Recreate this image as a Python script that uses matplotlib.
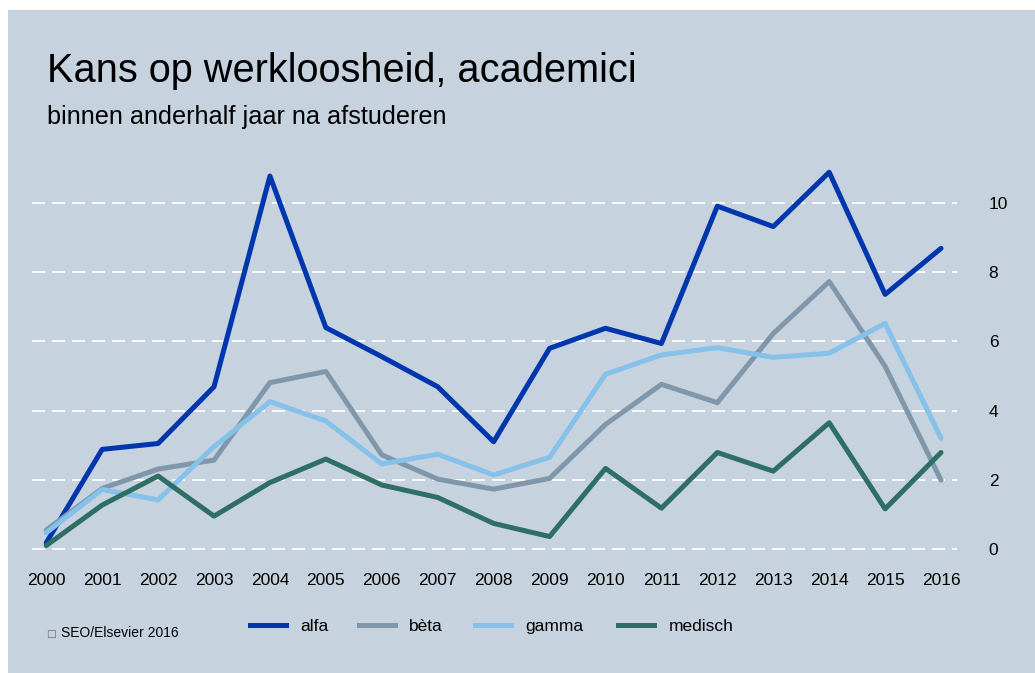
import matplotlib
matplotlib.use("Agg")
import matplotlib.pyplot as plt
from matplotlib.lines import Line2D
from matplotlib.patches import Rectangle

years = list(range(2000, 2017))
alfa = [0.18, 2.88, 3.05, 4.69, 10.78, 6.40, 5.56, 4.69, 3.10, 5.80, 6.38, 5.94, 9.91, 9.32, 10.89, 7.36, 8.69]
beta = [0.55, 1.75, 2.31, 2.57, 4.81, 5.13, 2.72, 2.02, 1.73, 2.04, 3.60, 4.76, 4.23, 6.23, 7.73, 5.28, 1.99]
gamma = [0.47, 1.72, 1.42, 2.96, 4.26, 3.70, 2.46, 2.74, 2.14, 2.65, 5.05, 5.61, 5.82, 5.54, 5.66, 6.52, 3.20]
medisch = [0.10, 1.27, 2.11, 0.95, 1.92, 2.60, 1.85, 1.49, 0.74, 0.36, 2.33, 1.18, 2.79, 2.25, 3.65, 1.16, 2.79]
series_names = ["alfa", "bèta", "gamma", "medisch"]
series_values = [alfa, beta, gamma, medisch]
series_colors = ["#0036ad", "#8096ab", "#85c1e9", "#2e6e64"]
y_ticks = [0, 2, 4, 6, 8, 10]
title = "Kans op werkloosheid, academici"
subtitle = "binnen anderhalf jaar na afstuderen"
source_mark = "\u25a1"
source = "SEO/Elsevier 2016"

plt.rcParams["font.family"] = ["Liberation Sans", "DejaVu Sans"]

W, H = 1035, 673
fig = plt.figure(figsize=(W / 100, H / 100), dpi=100, facecolor="white")
bg = "#c6d2de"
fig.patches.append(Rectangle((8 / W, 0), 1 - 8 / W, 1 - 10 / H, transform=fig.transFigure,
                             facecolor=bg, edgecolor="none", zorder=-5))

ax = fig.add_axes([31.7 / W, 0.1688, (956.7 - 31.7) / W, 0.5912])
ax.set_zorder(2)
ax.set_facecolor("none")
for name, vals, col in zip(series_names, series_values, series_colors):
    ax.plot(years, vals, color=col, lw=3.6, solid_capstyle="round", solid_joinstyle="round",
            label=name, zorder=3)

ax.set_xlim(1999.74, 2016.28)
ax.set_ylim(-0.3, 11.2)
ax.set_xticks(years)
ax.set_xticklabels([str(y) for y in years])
ax.set_yticks(y_ticks)
ax.yaxis.tick_right()
ax.tick_params(axis="both", length=0, labelsize=12.5, colors="black")
ax.tick_params(axis="y", pad=23)
ax.tick_params(axis="x", pad=10)
for lab in ax.get_yticklabels():
    lab.set_horizontalalignment("left")
ax.set_axisbelow(True)
ax.yaxis.grid(True, color="white", lw=1.2, linestyle=(0, (7.8, 4.2)))
ax.xaxis.grid(False)
for s in ax.spines.values():
    s.set_visible(False)

fig.text(47 / W, 1 - 82 / H, title, fontsize=28.6, va="baseline", ha="left", color="black")
fig.text(47 / W, 1 - 124 / H, subtitle, fontsize=18.2, va="baseline", ha="left", color="black")
fig.text(46 / W, 1 - 637 / H, source_mark, fontsize=7.5, va="baseline", ha="left", color="#666666",
         family=["DejaVu Sans"])
fig.text(61 / W, 1 - 637 / H, source, fontsize=10, va="baseline", ha="left", color="black")

handles = ax.get_legend_handles_labels()[0]
leg_x = [250, 359, 475, 618]
for h, name, x in zip(handles, series_names, leg_x):
    lh = Line2D([], [], color=h.get_color(), lw=3.6)
    fig.legend(handles=[lh], labels=[name], loc="center left",
               bbox_to_anchor=(x / W, 1 - 626 / H), frameon=False, fontsize=12.5,
               handlelength=2.1, handletextpad=0.8, borderpad=0, borderaxespad=0)

fig.savefig("out.png", dpi=100, facecolor="white")
